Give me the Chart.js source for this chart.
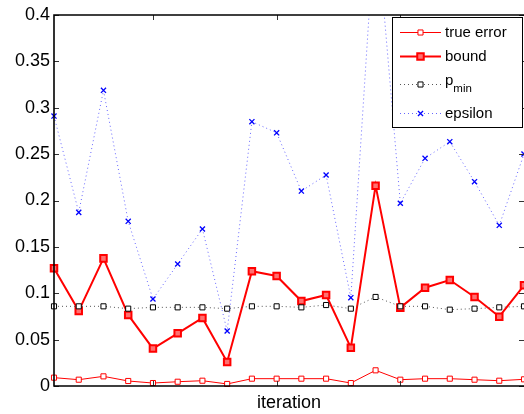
<!DOCTYPE html>
<html>
<head>
<meta charset="utf-8">
<script src="https://cdn.jsdelivr.net/npm/chart.js@4/dist/chart.umd.min.js"></script>
<style>
  html, body { margin: 0; padding: 0; background: #fff; overflow: hidden; }
  #wrap { width: 524px; height: 414px; }
</style>
</head>
<body>
<div id="wrap"><canvas id="c" width="524" height="414"></canvas></div>
<script>
const iterations = [1, 2, 3, 4, 5, 6, 7, 8, 9, 10, 11, 12, 13, 14, 15, 16, 17, 18, 19, 20];
const trueError = [0.009, 0.0068, 0.0104, 0.0054, 0.0032, 0.0046, 0.0057, 0.0022, 0.0079, 0.0079,
                   0.0079, 0.0079, 0.0032, 0.0169, 0.0068, 0.0079, 0.0079, 0.0068, 0.0057, 0.0072];
const bound = [0.127, 0.081, 0.1376, 0.0766, 0.0403, 0.0568, 0.0733, 0.0259, 0.1237, 0.1186,
               0.0916, 0.0981, 0.0413, 0.216, 0.0845, 0.106, 0.1143, 0.096, 0.0747, 0.1085];
const pMin = [0.0859, 0.0859, 0.0859, 0.0834, 0.0848, 0.0848, 0.0848, 0.0834, 0.0859, 0.0859,
              0.0848, 0.0873, 0.0834, 0.096, 0.0859, 0.0859, 0.0823, 0.0834, 0.0848, 0.0859];
const epsilon = [0.291, 0.1872, 0.3188, 0.1775, 0.0938, 0.1315, 0.1693, 0.0593, 0.285, 0.273,
                 0.2102, 0.2275, 0.0952, 0.51, 0.197, 0.2455, 0.2634, 0.2203, 0.1732, 0.2501];
const xTicks = [5, 10, 15, 20];
const yTicks = [0, 0.05, 0.1, 0.15, 0.2, 0.25, 0.3, 0.35, 0.4];
const yTickLabels = ['0', '0.05', '0.1', '0.15', '0.2', '0.25', '0.3', '0.35', '0.4'];
const seriesNames = ['true error', 'bound', 'p', 'epsilon'];

const FONT = "'Liberation Sans', Arial, Helvetica, sans-serif";
Chart.defaults.font.family = FONT;
Chart.defaults.color = '#000';

const toXY = arr => arr.map((v, i) => ({ x: iterations[i], y: v }));
const clip = { left: 10, right: 10, top: 0, bottom: 10 };

const styles = [
  { border: '#ff0000', width: 1, dash: [], pStyle: 'rect', r: 3.6, pbw: 1, pbg: '#ffffff', pbc: '#ff0000' },
  { border: '#ff0000', width: 2, dash: [], pStyle: 'rect', r: 4.6, pbw: 2, pbg: '#ff7070', pbc: '#ff0000' },
  { border: '#555555', width: 1, dash: [1, 3], pStyle: 'rect', r: 3.6, pbw: 1, pbg: '#ffffff', pbc: '#000000' },
  { border: '#6666ff', width: 1, dash: [1, 3], pStyle: 'crossRot', r: 3.6, pbw: 1.3, pbg: '#0000ff', pbc: '#0000ff' }
];
const values = [trueError, bound, pMin, epsilon];
const orders = [4, 3, 2, 1];

const datasets = values.map((vals, i) => {
  const s = styles[i];
  return {
    label: seriesNames[i],
    data: toXY(vals),
    borderColor: s.border,
    borderWidth: s.width,
    borderDash: s.dash,
    pointStyle: s.pStyle,
    pointRadius: s.r,
    pointBorderWidth: s.pbw,
    pointBackgroundColor: s.pbg,
    pointBorderColor: s.pbc,
    fill: false,
    tension: 0,
    clip: clip,
    order: orders[i]
  };
});

function drawMarker(ctx, s, x, y) {
  ctx.save();
  ctx.lineWidth = s.pbw;
  ctx.strokeStyle = s.pbc;
  ctx.fillStyle = s.pbg;
  const h = Math.SQRT1_2 * s.r;
  ctx.beginPath();
  if (s.pStyle === 'rect') {
    ctx.rect(x - h, y - h, 2 * h, 2 * h);
    ctx.fill();
  } else {
    ctx.moveTo(x - h, y - h); ctx.lineTo(x + h, y + h);
    ctx.moveTo(x - h, y + h); ctx.lineTo(x + h, y - h);
  }
  ctx.stroke();
  ctx.restore();
}

const framePlugin = {
  id: 'frame',
  afterDatasetsDraw(chart) {
    const { ctx, chartArea: a, scales: { x, y } } = chart;
    ctx.save();
    ctx.strokeStyle = '#333';
    ctx.lineWidth = 1;
    ctx.beginPath();
    y.ticks.forEach(t => {
      const py = Math.round(y.getPixelForValue(t.value)) + 0.5;
      ctx.moveTo(a.left, py); ctx.lineTo(a.left + 5, py);
      ctx.moveTo(a.right, py); ctx.lineTo(a.right - 5, py);
    });
    x.ticks.forEach(t => {
      const px = Math.round(x.getPixelForValue(t.value)) + 0.5;
      ctx.moveTo(px, a.bottom); ctx.lineTo(px, a.bottom - 5);
      ctx.moveTo(px, a.top); ctx.lineTo(px, a.top + 5);
    });
    ctx.stroke();
    ctx.strokeStyle = '#000';
    ctx.lineWidth = 1.6;
    ctx.beginPath();
    ctx.moveTo(a.right + 2, a.top); ctx.lineTo(a.left, a.top);
    ctx.lineTo(a.left, a.bottom); ctx.lineTo(a.right + 2, a.bottom);
    ctx.stroke();
    ctx.restore();
  },
  afterDraw(chart) {
    const ctx = chart.ctx;
    const bx = 392.5, by = 17.5, bw = 130, bh = 110;
    ctx.save();
    ctx.fillStyle = '#fff';
    ctx.fillRect(bx, by, bw, bh);
    ctx.strokeStyle = '#000';
    ctx.lineWidth = 1;
    ctx.strokeRect(bx, by, bw, bh);
    const rows = [32.5, 56.5, 84.5, 113.5];
    const x0 = 400, x1 = 441, xm = 420.5, tx = 445;
    rows.forEach((ry, i) => {
      const s = styles[i];
      ctx.save();
      ctx.strokeStyle = s.border;
      ctx.lineWidth = s.width;
      ctx.setLineDash(s.dash);
      ctx.beginPath();
      ctx.moveTo(x0, ry); ctx.lineTo(x1, ry);
      ctx.stroke();
      ctx.restore();
      drawMarker(ctx, s, xm, ry);
    });
    ctx.fillStyle = '#000';
    ctx.textAlign = 'left';
    ctx.textBaseline = 'middle';
    ctx.font = '15px ' + FONT;
    ctx.fillText(seriesNames[0], tx, rows[0]);
    ctx.fillText(seriesNames[1], tx, rows[1]);
    ctx.fillText(seriesNames[3], tx, rows[3]);
    ctx.textBaseline = 'alphabetic';
    ctx.fillText(seriesNames[2], tx, 84.5);
    const pw = ctx.measureText(seriesNames[2]).width;
    ctx.font = '11.5px ' + FONT;
    ctx.fillText('min', tx + pw, 91.5);
    ctx.restore();
  }
};

new Chart(document.getElementById('c'), {
  type: 'line',
  data: { datasets },
  options: {
    responsive: false,
    animation: false,
    events: [],
    layout: { autoPadding: false, padding: { left: 0, right: 0, top: 15, bottom: 0 } },
    plugins: { legend: { display: false }, tooltip: { enabled: false } },
    scales: {
      x: {
        type: 'linear',
        min: 1,
        max: 20,
        afterBuildTicks: s => { s.ticks = xTicks.map(v => ({ value: v })); },
        afterFit: s => { s.height = 28; },
        grid: { display: false, drawTicks: false },
        border: { display: false },
        ticks: { display: false },
        title: { display: true, text: 'iteration', color: '#000', font: { size: 18 }, padding: { top: 0, bottom: 0 } }
      },
      y: {
        type: 'linear',
        min: 0,
        max: 0.4,
        afterBuildTicks: s => { s.ticks = yTicks.map(v => ({ value: v })); },
        afterFit: s => { s.width = 54; },
        grid: { display: false, drawTicks: false },
        border: { display: false },
        ticks: {
          padding: 4,
          color: '#000',
          font: { size: 18 },
          callback: (v, i) => yTickLabels[i]
        }
      }
    }
  },
  plugins: [framePlugin]
});
</script>
</body>
</html>
